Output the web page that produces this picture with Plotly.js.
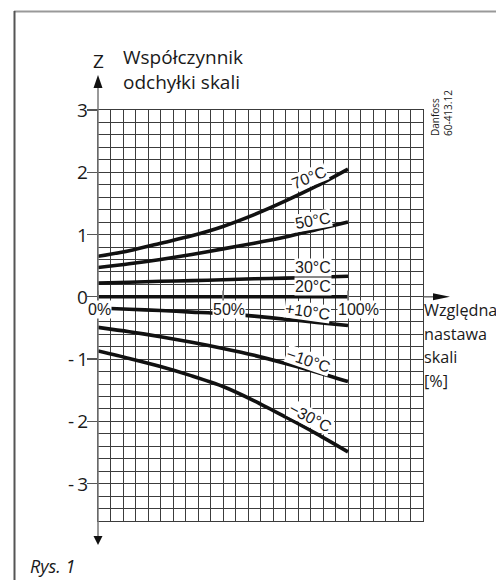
<!DOCTYPE html>
<html>
<head>
<meta charset="utf-8">
<script src="https://cdn.plot.ly/plotly-3.0.1.min.js"></script>
<style>
html,body{margin:0;padding:0;background:#fff;}
#chart{width:496px;height:580px;}
</style>
</head>
<body>
<div id="chart"></div>
<script>
// ---- data ----
const settingPct = [0, 12.5, 25, 37.5, 50, 62.5, 75, 87.5, 100];
const z70  = [0.65, 0.74, 0.86, 0.98, 1.13, 1.32, 1.54, 1.78, 2.05];
const z50  = [0.47, 0.53, 0.60, 0.68, 0.77, 0.86, 0.96, 1.08, 1.20];
const z30  = [0.22, 0.235, 0.25, 0.26, 0.275, 0.29, 0.30, 0.315, 0.33];
const z20  = [0, 0, 0, 0, 0, 0, 0, 0, 0];
const zP10 = [-0.18, -0.20, -0.22, -0.245, -0.27, -0.31, -0.36, -0.41, -0.46];
const zM10 = [-0.49, -0.56, -0.64, -0.73, -0.83, -0.94, -1.07, -1.21, -1.36];
const zM30 = [-0.87, -0.99, -1.12, -1.27, -1.44, -1.67, -1.93, -2.20, -2.49];
const seriesNames = ['70°C', '50°C', '30°C', '20°C', '+10°C', '−10°C', '−30°C'];
const seriesValues = [z70, z50, z30, z20, zP10, zM10, zM30];
const zTickVals = [-3, -2, -1, 0, 1, 2, 3];
const zTickText = ['-\u20093', '-\u20092', '-\u20091', '0', '1', '2', '3'];
const xTickVals = [0, 50, 100];
const xTickText = ['0%', '50%', '100%'];
const yTitleLines = ['Współczynnik', 'odchyłki skali'];
const xTitleLines = ['Względna', 'nastawa', 'skali', '[%]'];

// ---- layout geometry ----
const W = 496, H = 580;
const M = {l: 98, r: 73, t: 110, b: 59};
const PW = W - M.l - M.r, PH = H - M.t - M.b;
const XR = [0, 130], YR = [-3.6, 3];
const px = v => (v - M.l) / PW;          // pixel x -> paper
const py = v => (H - M.b - v) / PH;      // pixel y -> paper
const yData2Paper = v => (v - YR[0]) / (YR[1] - YR[0]);
const FONT = 'Open Sans, Noto Sans, sans-serif';
const FONT2 = 'Liberation Sans, Arial, sans-serif';
const INK = '#1a1a1a';

// label placement along each curve (x%, z, angle)
const labelPlace = [
  [84.5, 1.92, -22], [86.1, 1.225, -10], [86.1, 0.465, 0], [86.1, 0.16, 0],
  [83.9, -0.24, 8], [84.1, -1.02, 19], [84.9, -1.93, 27]
];

const traces = seriesValues.map((vals, i) => ({
  x: settingPct, y: vals, name: seriesNames[i], type: 'scatter', mode: 'lines',
  line: {color: '#111', width: 3.6, shape: 'spline', smoothing: 0.8},
  hoverinfo: 'skip', showlegend: false, cliponaxis: false
}));
// x-axis tick marks at 0/50/100
traces.push({
  x: xTickVals, y: xTickVals.map(() => 0), type: 'scatter', mode: 'markers',
  marker: {symbol: 'line-ns-open', size: 9, line: {color: '#111', width: 1.6}},
  hoverinfo: 'skip', showlegend: false, cliponaxis: false
});

const annotations = [];
seriesNames.forEach((n, i) => {
  const p = labelPlace[i];
  annotations.push({
    x: p[0], y: p[1], xref: 'x', yref: 'y', text: n, showarrow: false,
    textangle: p[2], font: {family: FONT2, size: 16, color: INK},
    bgcolor: '#fff', borderpad: 0, xanchor: 'center', yanchor: 'middle'
  });
});
xTickVals.forEach((v, i) => {
  annotations.push({
    x: v, y: 0, xref: 'x', yref: 'y', text: xTickText[i], showarrow: false,
    font: {family: FONT2, size: 16, color: INK}, bgcolor: '#fff', borderpad: 0,
    xanchor: 'left', yanchor: 'top', xshift: -11, yshift: -3
  });
});
zTickVals.forEach((v, i) => {
  annotations.push({
    x: px(88.5), y: v, xref: 'paper', yref: 'y', text: zTickText[i], showarrow: false,
    font: {family: FONT, size: 19, color: INK}, xanchor: 'right', yanchor: 'middle',
    borderpad: 0
  });
});
annotations.push({x: px(98), y: py(68 - 7.3), xref: 'paper', yref: 'paper', text: 'Z',
  showarrow: false, font: {family: FONT, size: 19, color: INK}, xanchor: 'center', yanchor: 'middle'});
// two-line title (first baseline ~65px)
annotations.push({x: px(121), y: py(70), xref: 'paper', yref: 'paper',
  text: yTitleLines.join('<br>'), align: 'left', showarrow: false,
  font: {family: FONT, size: 19, color: INK}, xanchor: 'left', yanchor: 'middle'});
// right-hand axis title, one line each
const midR = b => py(b - 6.2);
[316.5, 340, 363.5, 387].forEach((b, i) => annotations.push({
  x: px(422), y: midR(b), xref: 'paper', yref: 'paper', text: xTitleLines[i], showarrow: false,
  font: {family: FONT, size: 16.2, color: INK}, xanchor: 'left', yanchor: 'middle'}));
annotations.push(
  {x: px(441), y: py(138), xref: 'paper', yref: 'paper', text: 'Danfoss<br>60-413.12',
   showarrow: false, align: 'left', textangle: -90, font: {family: FONT, size: 10, color: INK},
   xanchor: 'center', yanchor: 'bottom'},
  {x: px(28), y: py(580), xref: 'paper', yref: 'paper', text: '<i>Rys. 1</i>',
   showarrow: false, font: {family: FONT, size: 18, color: INK}, xanchor: 'left', yanchor: 'bottom'}
);

const y0p = yData2Paper(0);
const shapes = [
  // frame
  {type: 'line', xref: 'paper', yref: 'paper', x0: px(14), x1: px(497), y0: py(11.5), y1: py(11.5),
   line: {color: '#999', width: 2}},
  {type: 'line', xref: 'paper', yref: 'paper', x0: px(14.5), x1: px(14.5), y0: py(11), y1: py(581),
   line: {color: '#555', width: 2}},
  // vertical axis with arrows
  {type: 'line', xref: 'paper', yref: 'paper', x0: 0, x1: 0, y0: py(538), y1: py(86),
   line: {color: '#777', width: 1.5}},
  {type: 'path', xref: 'paper', yref: 'paper',
   path: `M ${px(98)} ${py(75)} L ${px(102.5)} ${py(88)} L ${px(93.5)} ${py(88)} Z`,
   fillcolor: '#111', line: {width: 0}},
  {type: 'path', xref: 'paper', yref: 'paper',
   path: `M ${px(98)} ${py(545)} L ${px(102.5)} ${py(536)} L ${px(93.5)} ${py(536)} Z`,
   fillcolor: '#111', line: {width: 0}},
  // horizontal axis continuation + arrow
  {type: 'line', xref: 'paper', yref: 'paper', x0: 1, x1: px(436), y0: y0p, y1: y0p,
   line: {color: '#555', width: 1.3}},
  {type: 'path', xref: 'paper', yref: 'paper',
   path: `M ${px(450)} ${y0p} L ${px(433)} ${y0p + 3.5 / PH} L ${px(433)} ${y0p - 3.5 / PH} Z`,
   fillcolor: '#111', line: {width: 0}}
];

const layout = {
  width: W, height: H, margin: M, paper_bgcolor: '#fff', plot_bgcolor: '#fff',
  showlegend: false,
  font: {family: FONT, color: INK},
  xaxis: {
    range: XR, dtick: 5, tick0: 0, showgrid: true, gridcolor: '#3c3c3c', gridwidth: 1,
    zeroline: false, showticklabels: false, ticks: '', showline: true, mirror: true,
    linecolor: '#3c3c3c', linewidth: 1, fixedrange: true
  },
  yaxis: {
    range: YR, tickmode: 'array', tickvals: zTickVals, showticklabels: false,
    ticks: 'outside', ticklen: 10,
    tickcolor: '#555', tickwidth: 1.2, showgrid: true, gridcolor: '#3c3c3c', gridwidth: 1,
    minor: {dtick: 0.2, tick0: 0, showgrid: true, gridcolor: '#3c3c3c', gridwidth: 1, ticks: ''},
    zeroline: false, showline: true, mirror: true, linecolor: '#3c3c3c', linewidth: 1,
    fixedrange: true
  },
  shapes: shapes, annotations: annotations
};

Plotly.newPlot('chart', traces, layout, {staticPlot: true, displayModeBar: false});
</script>
</body>
</html>
